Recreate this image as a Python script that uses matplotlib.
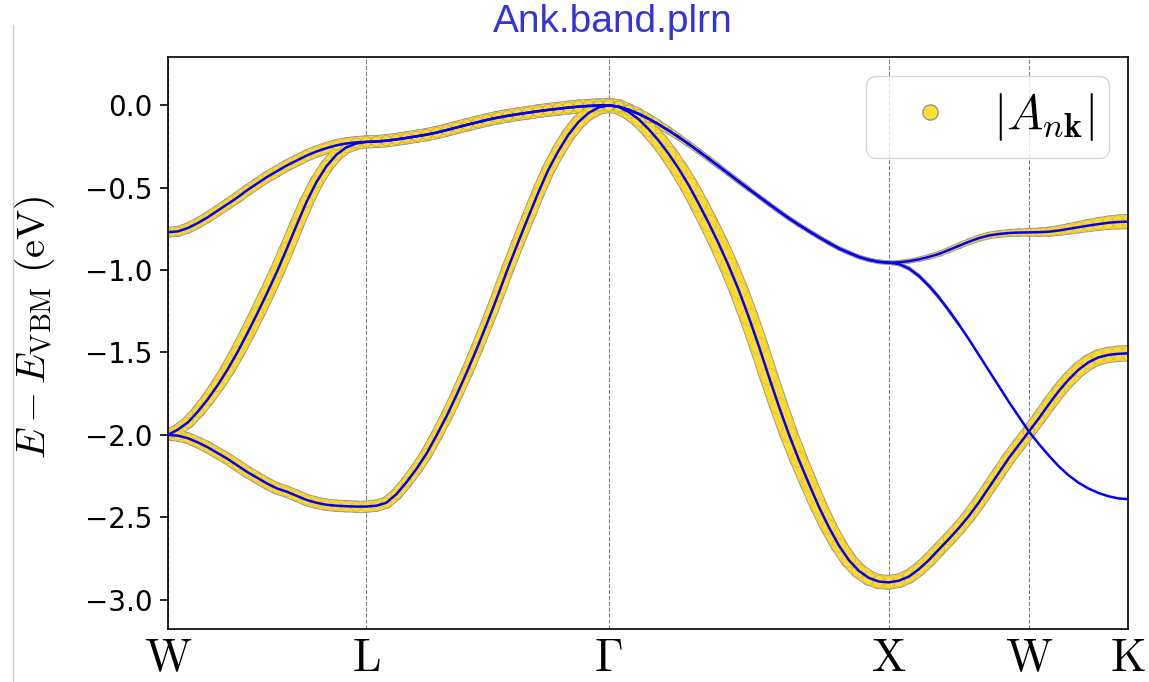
import numpy as np
import matplotlib
matplotlib.use("Agg")
import matplotlib.pyplot as plt
from matplotlib.lines import Line2D
from matplotlib.collections import LineCollection

plt.rcParams['mathtext.fontset'] = 'cm'

# k-path: W - L - Gamma - X - W - K  (segment lengths in 2pi/a, samples per segment)
labels = [r'$\mathrm{W}$', r'$\mathrm{L}$', r'$\Gamma$', r'$\mathrm{X}$', r'$\mathrm{W}$', r'$\mathrm{K}$']
seg_len = [0.7071, 0.8660, 1.0000, 0.5000, 0.3536]
seg_n = [20, 24, 28, 14, 10]

# band energies (eV, relative to VBM)
band_top = [
    -0.770, -0.765, -0.745, -0.715, -0.680, -0.640, -0.600, -0.560, -0.515, -0.475, -0.435,
    -0.400, -0.365, -0.335, -0.305, -0.280, -0.260, -0.243, -0.232, -0.225, -0.222,
    -0.220, -0.215, -0.207, -0.198, -0.188, -0.178, -0.165, -0.150, -0.134, -0.118, -0.103, -0.088,
    -0.075, -0.064, -0.054, -0.045, -0.036, -0.028, -0.021, -0.014, -0.008, -0.004, -0.001, 0.000,
    -0.008, -0.027, -0.052, -0.082, -0.116, -0.153, -0.193, -0.235, -0.279, -0.324, -0.370, -0.416,
    -0.462, -0.508, -0.553, -0.598, -0.642, -0.685, -0.725, -0.763, -0.800, -0.835, -0.868, -0.895,
    -0.920, -0.938, -0.950, -0.955,
    -0.953, -0.946, -0.935, -0.920, -0.902, -0.878, -0.853, -0.828, -0.806, -0.790, -0.781, -0.775,
    -0.772, -0.771,
    -0.770, -0.767, -0.760, -0.750, -0.740, -0.730, -0.721, -0.713, -0.708, -0.706,
]
band_mid = [
    -2.000, -1.968, -1.925, -1.860, -1.785, -1.700, -1.605, -1.500, -1.385, -1.265, -1.140,
    -1.010, -0.870, -0.725, -0.585, -0.465, -0.370, -0.300, -0.255, -0.232, -0.222,
    -0.220, -0.215, -0.207, -0.198, -0.188, -0.178, -0.165, -0.150, -0.134, -0.118, -0.103, -0.088,
    -0.075, -0.064, -0.054, -0.045, -0.036, -0.028, -0.021, -0.014, -0.008, -0.004, -0.001, 0.000,
    -0.008, -0.027, -0.052, -0.082, -0.116, -0.153, -0.193, -0.235, -0.279, -0.324, -0.370, -0.416,
    -0.462, -0.508, -0.553, -0.598, -0.642, -0.685, -0.725, -0.763, -0.800, -0.835, -0.868, -0.895,
    -0.920, -0.938, -0.950, -0.955,
    -0.963, -0.990, -1.035, -1.095, -1.165, -1.245, -1.330, -1.420, -1.515, -1.610, -1.705, -1.800,
    -1.890, -1.980,
    -1.900, -1.815, -1.735, -1.665, -1.605, -1.560, -1.530, -1.515, -1.508, -1.505,
]
band_low = [
    -2.000, -2.005, -2.020, -2.045, -2.075, -2.110, -2.145, -2.185, -2.225, -2.260, -2.295,
    -2.325, -2.345, -2.370, -2.395, -2.412, -2.424, -2.430, -2.433, -2.435, -2.435,
    -2.430, -2.412, -2.360, -2.287, -2.205, -2.112, -2.000, -1.882, -1.752, -1.615, -1.470, -1.318,
    -1.160, -0.995, -0.838, -0.685, -0.535, -0.395, -0.280, -0.180, -0.102, -0.047, -0.013, 0.000,
    -0.010, -0.040, -0.085, -0.145, -0.215, -0.295, -0.385, -0.485, -0.597, -0.715, -0.840, -0.975,
    -1.122, -1.285, -1.460, -1.645, -1.825, -1.995, -2.150, -2.295, -2.435, -2.560, -2.670, -2.760,
    -2.825, -2.868, -2.890, -2.895,
    -2.885, -2.860, -2.815, -2.760, -2.695, -2.632, -2.565, -2.492, -2.410, -2.320, -2.230, -2.140,
    -2.060, -1.980,
    -2.055, -2.125, -2.190, -2.245, -2.290, -2.325, -2.352, -2.372, -2.385, -2.390,
]

# |A_nk| weights for each band
w_top = [
    0.25, 0.25, 0.26, 0.26, 0.27, 0.27, 0.28, 0.28, 0.29, 0.29, 0.30,
    0.30, 0.31, 0.31, 0.32, 0.32, 0.33, 0.34, 0.35, 0.36, 0.37,
    0.37, 0.37, 0.37, 0.37, 0.37, 0.38, 0.38, 0.38, 0.38, 0.39, 0.39, 0.39,
    0.40, 0.40, 0.40, 0.41, 0.41, 0.42, 0.42, 0.43, 0.44, 0.45, 0.46, 0.47,
    0.42, 0.36, 0.29, 0.22, 0.16, 0.11, 0.08, 0.06, 0.05, 0.04, 0.04, 0.03,
    0.03, 0.03, 0.02, 0.02, 0.02, 0.02, 0.02, 0.02, 0.02, 0.02, 0.02, 0.02,
    0.02, 0.02, 0.02, 0.02,
    0.03, 0.03, 0.04, 0.05, 0.05, 0.06, 0.07, 0.08, 0.09, 0.10, 0.11, 0.12,
    0.13, 0.15,
    0.18, 0.22, 0.26, 0.30, 0.35, 0.40, 0.45, 0.50, 0.55, 0.60,
]
w_mid = [
    0.30, 0.33, 0.37, 0.41, 0.45, 0.49, 0.53, 0.56, 0.58, 0.59, 0.59,
    0.58, 0.56, 0.53, 0.50, 0.47, 0.44, 0.41, 0.39, 0.38, 0.37,
    0.37, 0.37, 0.37, 0.37, 0.37, 0.38, 0.38, 0.38, 0.38, 0.39, 0.39, 0.39,
    0.40, 0.40, 0.40, 0.41, 0.41, 0.42, 0.42, 0.43, 0.44, 0.45, 0.46, 0.47,
    0.42, 0.36, 0.29, 0.22, 0.16, 0.11, 0.08, 0.06, 0.05, 0.04, 0.04, 0.03,
    0.03, 0.03, 0.02, 0.02, 0.02, 0.02, 0.02, 0.02, 0.02, 0.02, 0.02, 0.02,
    0.02, 0.02, 0.02, 0.02,
    0.02, 0.02, 0.015, 0.01, 0.01, 0.005, 0.005, 0.0, 0.0, 0.0, 0.0, 0.0,
    0.0, 0.45,
    0.47, 0.50, 0.52, 0.55, 0.57, 0.60, 0.62, 0.64, 0.65, 0.66,
]
w_low = [
    0.30, 0.30, 0.30, 0.31, 0.31, 0.31, 0.32, 0.32, 0.32, 0.33, 0.33,
    0.33, 0.33, 0.33, 0.33, 0.33, 0.33, 0.33, 0.33, 0.33, 0.33,
    0.33, 0.33, 0.33, 0.33, 0.34, 0.34, 0.34, 0.35, 0.35, 0.36, 0.36, 0.37,
    0.38, 0.39, 0.40, 0.41, 0.42, 0.44, 0.46, 0.48, 0.50, 0.52, 0.54, 0.56,
    0.60, 0.64, 0.68, 0.72, 0.76, 0.80, 0.84, 0.87, 0.90, 0.92, 0.94, 0.95,
    0.95, 0.95, 0.94, 0.92, 0.90, 0.87, 0.84, 0.80, 0.76, 0.72, 0.68, 0.64,
    0.60, 0.57, 0.54, 0.52,
    0.50, 0.49, 0.48, 0.47, 0.46, 0.45, 0.45, 0.44, 0.44, 0.44, 0.44, 0.45,
    0.45, 0.45,
    0.0, 0.0, 0.0, 0.0, 0.0, 0.0, 0.0, 0.0, 0.0, 0.0,
]

# k coordinates along the path
nodes = np.concatenate([[0.0], np.cumsum(seg_len)])
kpts = [0.0]
for i, n in enumerate(seg_n):
    kpts.extend(np.linspace(nodes[i], nodes[i + 1], n + 1)[1:])
kpts = np.array(kpts)

fig = plt.figure(figsize=(11.49, 6.82), dpi=100)
ax = fig.add_axes([0.1462, 0.0777, 0.8355, 0.8387])

WSCALE = 13.0  # marker diameter (pt) for |A| = 1
fat = '#FFDA2A'
edge = '#9a9a96'

bands = [band_top, band_mid, band_low]
weights = [w_top, w_mid, w_low]

# fat bands: grey rim first, yellow body on top, then the dispersion lines
for layer in ('rim', 'body'):
    for band, w in zip(bands, weights):
        pts = np.column_stack([kpts, band])
        segs = np.stack([pts[:-1], pts[1:]], axis=1)
        wseg = np.minimum(np.array(w[:-1]), np.array(w[1:]))
        keep = wseg > 0.004
        d = WSCALE * np.sqrt(wseg[keep])
        if layer == 'rim':
            lc = LineCollection(segs[keep], linewidths=d + 1.4, colors=edge,
                                capstyle='round', joinstyle='round', zorder=2)
        else:
            lc = LineCollection(segs[keep], linewidths=d, colors=fat,
                                capstyle='round', joinstyle='round', zorder=2.2)
        ax.add_collection(lc)

# faint circle outlines give the beaded look of the overlapping markers
for band, w in zip(bands, weights):
    ww = np.array(w)
    m = ww > 0.004
    ax.scatter(kpts[m], np.array(band)[m], s=(WSCALE ** 2) * ww[m] * 0.9,
               facecolors='none', edgecolors=(0.55, 0.55, 0.5, 0.35), linewidths=0.6,
               zorder=2.4)

for band in bands:
    ax.plot(kpts, band, color='blue', lw=1.8, zorder=3)

for x in nodes:
    ax.axvline(x, color='grey', ls='--', lw=0.8, zorder=1)

ax.set_xlim(nodes[0], nodes[-1])
ax.set_ylim(-3.178, 0.293)
ax.set_xticks(nodes)
ax.set_xticklabels(labels, fontsize=33)
ax.tick_params(axis='x', length=0, pad=5)
ax.set_yticks([0.0, -0.5, -1.0, -1.5, -2.0, -2.5, -3.0])
ax.tick_params(axis='y', labelsize=20, length=6, width=1.2, pad=5)
for sp in ax.spines.values():
    sp.set_linewidth(1.2)
ax.set_ylabel(r'$E - E_{\mathrm{VBM}}\ \mathrm{(eV)}$', fontsize=29)
ax.yaxis.set_label_coords(-0.116, 0.527)

handle = Line2D([], [], ls='', marker='o', ms=11, mfc='#FFD700', mec='grey',
                mew=1.0, alpha=0.8, label=r'$|A_{n\mathbf{k}}|$')
ax.legend(handles=[handle], loc='upper right', fontsize=35, handletextpad=0.3,
          borderpad=0.3, borderaxespad=0.4)

fig.text(0.5335, 0.9677, 'Ank.band.plrn', color='#3535d5', fontsize=28,
         family='Liberation Sans', ha='center', va='center')
fig.add_artist(Line2D([0.0113, 0.0113], [0.0, 0.963], transform=fig.transFigure,
                      color='#cccccc', lw=1))

fig.savefig('out.png', dpi=100)
